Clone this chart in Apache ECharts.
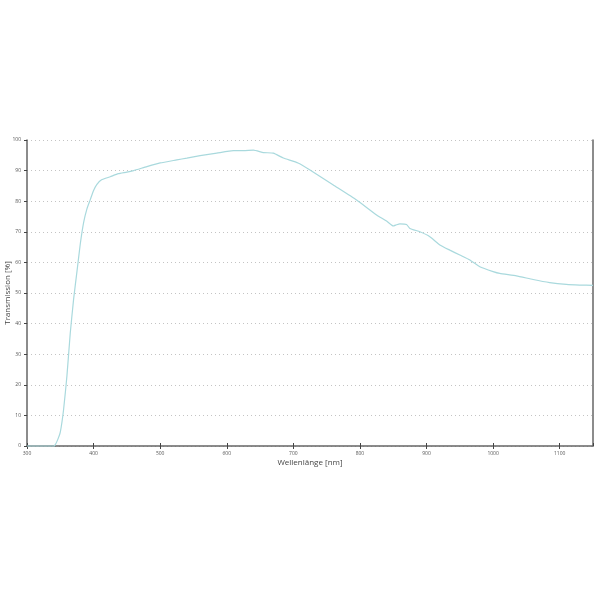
<!DOCTYPE html>
<html>
<head>
<meta charset="utf-8">
<script src="https://cdn.jsdelivr.net/npm/echarts@6/dist/echarts.min.js"></script>
<style>html,body{margin:0;padding:0;background:#fff}#c{width:600px;height:600px}</style>
</head>
<body>
<div id="c"></div>
<script>
const wavelength = [300,320,340,342,346,350,355,360,365,370,375,380,385,390,395,400,405,412,425,437,450,460,480,500,525,540,560,585,610,625,640,655,670,685,707,725,760,795,825,840,850,855,860,870,875,890,905,920,935,950,965,980,1000,1010,1035,1060,1085,1110,1130,1150];
const transmission = [0,0,0,0.3,2,4.5,12,23,37,48,57,66,73,77.5,80.5,83.5,85.5,87,88,89,89.5,90,91.3,92.5,93.5,94.1,94.9,95.7,96.5,96.5,96.7,95.9,95.7,94.1,92.5,90.2,85.3,80.4,75.5,73.5,71.9,72.3,72.6,72.4,71.1,70,68.4,65.7,64,62.4,60.8,58.6,57,56.4,55.6,54.4,53.4,52.8,52.6,52.5];
const xTitle = 'Wellenlänge [nm]';
const yTitle = 'Transmission [%]';

const chart = echarts.init(document.getElementById('c'), null, {renderer:'canvas'});
const lbl = {fontSize:5, color:'#555', fontFamily:'Open Sans'};
chart.setOption({
  animation:false,
  grid:{left:27, right:7, top:140, bottom:154, containLabel:false, outerBoundsMode:'none'},
  xAxis:[{
    type:'value', min:300, max:1150, interval:100,
    name:xTitle, nameLocation:'middle', nameGap:13, nameMoveOverlap:false,
    nameTextStyle:{fontSize:8, color:'#444', fontFamily:'Open Sans'},
    axisLine:{show:true, lineStyle:{color:'#666', width:1.5}},
    axisTick:{show:true, length:3, lineStyle:{color:'#444'}},
    axisLabel:{...lbl, margin:5, showMaxLabel:false, formatter:v=>String(v)},
    splitLine:{show:false}
  },{
    type:'value', min:300, max:1150, interval:100, position:'bottom',
    axisLine:{show:false},
    axisTick:{show:true, inside:true, length:3, lineStyle:{color:'#444'}},
    axisLabel:{show:false}, splitLine:{show:false}
  }],
  yAxis:[{
    type:'value', min:0, max:100, interval:10,
    name:yTitle, nameLocation:'middle', nameGap:15, nameMoveOverlap:false,
    nameTextStyle:{fontSize:8, color:'#444', fontFamily:'Open Sans'},
    axisLine:{show:true, lineStyle:{color:'#666', width:1.5}},
    axisTick:{show:true, length:3, lineStyle:{color:'#444'}},
    axisLabel:{...lbl, margin:6, formatter:v=>String(v)},
    splitLine:{show:true, lineStyle:{type:[1,3], color:'#c4c4c4', width:1}}
  },{
    type:'value', min:0, max:100, interval:10, position:'right',
    axisLine:{show:true, lineStyle:{color:'#666', width:1.5}},
    axisTick:{show:false}, axisLabel:{show:false}, splitLine:{show:false}
  }],
  series:[{
    type:'line', xAxisIndex:0, yAxisIndex:0, z:10, clip:false,
    data:wavelength.map((w,i)=>[w, transmission[i]]),
    showSymbol:false, smooth:0.15,
    lineStyle:{color:'#a9d9dd', width:1.2}
  }]
});
</script>
</body>
</html>
